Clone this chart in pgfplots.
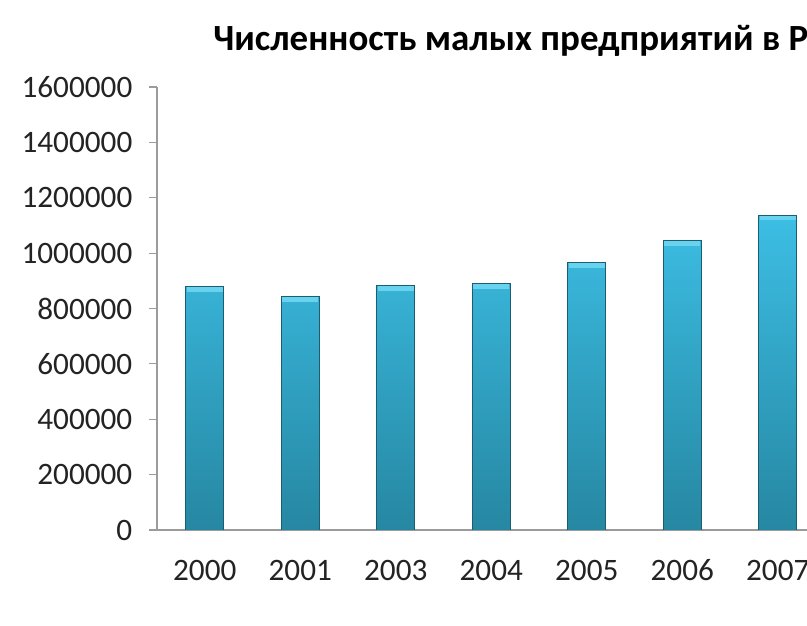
\documentclass[border=0pt]{standalone}
\usepackage{pgfplots}
\pgfplotsset{compat=1.18}
\usepackage{fontspec}
\setmainfont{Carlito}
\definecolor{bartop}{RGB}{60,190,228}
\definecolor{barbot}{RGB}{38,135,162}
\definecolor{barhi}{RGB}{105,210,238}
\definecolor{axgray}{RGB}{155,155,155}
\definecolor{txt}{RGB}{35,35,35}
\begin{document}
\begin{tikzpicture}
\path[use as bounding box] (0,0) rectangle (605.25pt,468.75pt);
\clip (0,0) rectangle (605.25pt,468.75pt);
\fill[white] (0,0) rectangle (605.25pt,468.75pt);
\node[anchor=base west, font=\fontsize{27.7}{32}\selectfont\bfseries, text=black, inner sep=0pt] at (159.75pt,430.5pt) {Численность малых предприятий в России};
\begin{axis}[
  at={(117.75pt,71.25pt)}, anchor=south west,
  scale only axis, width=501.4pt, height=332.25pt,
  xmin=-0.5, xmax=6.5, ymin=0, ymax=1600000,
  axis x line*=bottom, axis y line*=left,
  axis line style={axgray, line width=0.8pt, -},
  xtick={0,1,2,3,4,5,6},
  xticklabels={2000,2001,2003,2004,2005,2006,2007},
  x tick style={draw=none},
  extra x ticks={-0.5,0.5,1.5,2.5,3.5,4.5,5.5,6.5},
  extra x tick labels={},
  extra x tick style={tick align=outside, major tick length=7pt, tick style={axgray, line width=0.8pt}},
  ytick={0,200000,...,1600000},
  scaled y ticks=false,
  y tick label style={/pgf/number format/fixed, /pgf/number format/1000 sep={}},
  ytick style={axgray, line width=0.8pt},
  tick align=outside, major tick length=6pt,
  /pgf/number format/assume math mode=true,
  tick label style={font=\fontsize{23.4}{28}\selectfont, text=txt},
  xticklabel style={anchor=base, yshift=-32pt},
  yticklabel style={xshift=-9pt},
]
\addplot[ybar, bar width=28.5pt, draw=barbot!70!black, line width=0.5pt, top color=bartop, bottom color=barbot]
  coordinates {(0,880000) (1,843000) (2,882000) (3,891000) (4,965000) (5,1045000) (6,1137000)};
\addplot[draw=none, mark=none, forget plot,
  error bars/.cd, y dir=minus, y explicit,
  error bar style={barhi, line width=27pt, line cap=butt},
  error mark=none]
  coordinates {(0,878000) -= (0,17000) (1,841000) -= (0,17000) (2,880000) -= (0,17000) (3,889000) -= (0,17000) (4,963000) -= (0,17000) (5,1043000) -= (0,17000) (6,1135000) -= (0,17000)};
\end{axis}
\end{tikzpicture}
\end{document}
